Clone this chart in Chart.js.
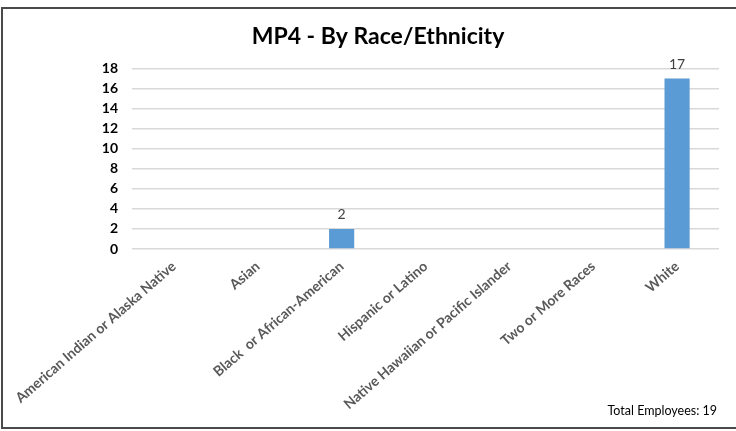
<!DOCTYPE html>
<html>
<head>
<meta charset="utf-8">
<script src="https://cdn.jsdelivr.net/npm/chart.js@4"></script>
<style>
  html, body { margin: 0; padding: 0; background: #fff; }
  body { width: 736px; height: 431px; overflow: hidden; position: relative; }
  #frame {
    position: absolute; left: 1px; top: 7px; width: 760px; height: 422px;
    border-left: 2px solid #4a4a4a; border-top: 2px solid #4a4a4a; border-bottom: 2px solid #4a4a4a;
    box-sizing: border-box; pointer-events: none;
  }
  #wrap { position: absolute; left: 0; top: 0; width: 736px; height: 431px; }
</style>
</head>
<body>
<div id="wrap"><canvas id="c" width="736" height="431"></canvas></div>
<div id="frame"></div>
<script>
const categories = [
  'American Indian or Alaska Native',
  'Asian',
  'Black  or African-American',
  'Hispanic or Latino',
  'Native Hawaiian or Pacific Islander',
  'Two or More Races',
  'White'
];
const employees = [0, 0, 2, 0, 0, 0, 17];
const yTicks = [0, 2, 4, 6, 8, 10, 12, 14, 16, 18];
const chartTitle = 'MP4 - By Race/Ethnicity';
const footnote = 'Total Employees: 19';

const FONT = 'Lato, "Open Sans", sans-serif';

// Value labels above every non-zero bar
const valueLabels = {
  id: 'valueLabels',
  afterDatasetsDraw(chart) {
    const ctx = chart.ctx;
    const meta = chart.getDatasetMeta(0);
    ctx.save();
    ctx.font = '14px ' + FONT;
    ctx.fillStyle = '#404040';
    ctx.textAlign = 'center';
    ctx.textBaseline = 'bottom';
    meta.data.forEach((bar, i) => {
      const v = employees[i];
      if (!v) return;
      ctx.fillText(String(v), bar.x, bar.y - 7);
    });
    ctx.restore();
  }
};

// Footnote in the lower right corner
const footnoteText = {
  id: 'footnoteText',
  afterDraw(chart) {
    const ctx = chart.ctx;
    ctx.save();
    ctx.font = '12.5px ' + FONT;
    ctx.fillStyle = '#000';
    ctx.textAlign = 'right';
    ctx.textBaseline = 'middle';
    ctx.fillText(footnote, 717, 411);
    ctx.restore();
  }
};

new Chart(document.getElementById('c'), {
  type: 'bar',
  data: {
    labels: categories,
    datasets: [{
      data: employees,
      backgroundColor: '#5B9BD5',
      borderWidth: 0,
      barPercentage: 0.3,
      categoryPercentage: 1.0
    }]
  },
  options: {
    responsive: false,
    animation: false,
    devicePixelRatio: 1,
    layout: { padding: { left: 37, right: 17, top: 0, bottom: 0 } },
    plugins: {
      legend: { display: false },
      tooltip: { enabled: false },
      title: {
        display: true,
        text: chartTitle,
        color: '#000',
        font: { family: FONT, size: 23, weight: 'bold' },
        padding: { top: 23, bottom: 18 }
      }
    },
    scales: {
      x: {
        grid: { display: false, drawTicks: false },
        border: { display: false },
        ticks: {
          color: '#595959',
          font: { family: FONT, size: 14, weight: 'bold' },
          minRotation: 41,
          maxRotation: 41,
          autoSkip: false,
          padding: 9
        },
        afterFit(scale) {
          scale.height = 182;
          scale.paddingLeft = 0;
          scale.paddingRight = 0;
        }
      },
      y: {
        min: 0,
        max: 18,
        afterBuildTicks(scale) {
          scale.ticks = yTicks.map(v => ({ value: v }));
        },
        grid: { color: '#D9D9D9', lineWidth: 1.5, drawTicks: false },
        border: { display: false },
        ticks: {
          color: '#000',
          font: { family: FONT, size: 14, weight: 'bold' },
          padding: 14
        },
        afterFit(scale) {
          scale.width = 95;
        }
      }
    }
  },
  plugins: [valueLabels, footnoteText]
});
</script>
</body>
</html>
